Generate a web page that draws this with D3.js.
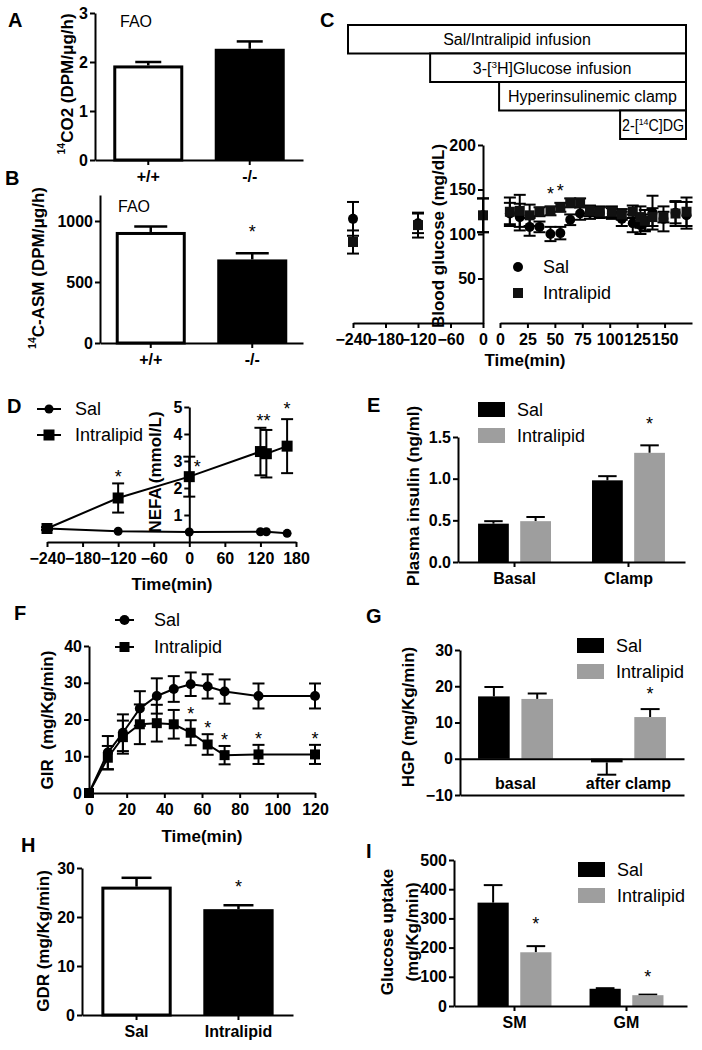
<!DOCTYPE html>
<html><head><meta charset="utf-8">
<script src="https://cdn.jsdelivr.net/npm/d3@7"></script>
<style>
body{margin:0;background:#fff;}
svg{display:block;font-family:"Liberation Sans",Arial,Helvetica,sans-serif;}
</style></head><body>
<svg id="fig" width="702" height="1050"></svg>
<script>
// ---------------- DATA ----------------
const faoGenotypes = ["+/+", "-/-"];
const co2Values = [1.93, 2.27];
const co2Errors = [0.07, 0.15];
const co2Ticks = [0, 1, 2, 3];
const asmValues = [910, 685];
const asmErrors = [45, 50];
const asmTicks = [0, 500, 1000];
const asmStars = ["", "*"];

const protocolSteps = ["Sal/Intralipid infusion", "3-[3H]Glucose infusion", "Hyperinsulinemic clamp", "2-[14C]DG"];
const protocolStart = [0, 0.243, 0.447, 0.805];

const glucPreTimes = [-240, -120, 0];
const glucPreSal = [117, 112, 121];
const glucPreSalErr = [19, 11, 19];
const glucPreIL = [91, 110, 121];
const glucPreILErr = [13, 14, 19];
const glucTimes = [9, 18, 27, 36, 46, 55, 64, 73, 82, 91, 102, 111, 121, 128, 132, 139, 149, 160, 170];
const glucSal = [123, 119, 108, 108, 100, 101, 116, 123, 124, 124, 123, 117, 112, 110, 113, 124, 117, 124, 121];
const glucSalErr = [12, 15, 10, 6, 8, 7, 6, 7, 7, 6, 6, 8, 10, 10, 9, 19, 14, 12, 15];
const glucIL = [125, 126, 121, 125, 126, 130, 135, 135, 126, 125, 125, 122, 125, 119, 115, 119, 119, 123, 125];
const glucILErr = [16, 18, 12, 5, 5, 5, 5, 5, 6, 6, 6, 6, 7, 12, 12, 10, 6, 14, 16];
const glucStarIdx = [4, 5];
const glucPreTicks = [-240, -180, -120, -60, 0];
const glucPostTicks = [0, 25, 50, 75, 100, 125, 150];
const glucYTicks = [50, 100, 150, 200];

const nefaTimes = [-240, -120, 0, 120, 130, 165];
const nefaSal = [0.5, 0.4, 0.37, 0.38, 0.38, 0.32];
const nefaIL = [0.5, 1.63, 2.42, 3.35, 3.27, 3.55];
const nefaILErr = [0.05, 0.54, 0.74, 0.88, 0.88, 1.0];
const nefaXTicks = [-240, -180, -120, -60, 0, 60, 120, 180];
const nefaYTicks = [1, 2, 3, 4, 5];

const insulinGroups = ["Basal", "Clamp"];
const insulinSal = [0.46, 0.98];
const insulinSalErr = [0.03, 0.05];
const insulinIL = [0.49, 1.31];
const insulinILErr = [0.05, 0.09];
const insulinTicks = [0, 0.5, 1.0, 1.5];

const girTimes = [0, 10, 18, 27, 36, 45, 54, 63, 72, 90, 120];
const girSal = [0, 11, 16.4, 23, 26.4, 28.3, 29.6, 29, 27.6, 26.4, 26.4];
const girSalErr = [0, 4.5, 5, 4.7, 4.8, 3.5, 3.2, 3.3, 3.3, 3.4, 3.4];
const girIL = [0, 9.6, 15.2, 18.7, 19, 18.7, 16.4, 13.2, 10.3, 10.5, 10.5];
const girILErr = [0, 3.2, 4.5, 5.4, 5, 3.9, 3.4, 2.8, 2.5, 2.6, 2.6];
const girStars = ["", "", "", "", "", "", "*", "*", "*", "*", "*"];
const girXTicks = [0, 20, 40, 60, 80, 100, 120];
const girYTicks = [0, 10, 20, 30, 40];

const hgpGroups = ["basal", "after clamp"];
const hgpSal = [17.2, -1.0];
const hgpSalErr = [2.6, 3.4];
const hgpIL = [16.5, 11.5];
const hgpILErr = [1.5, 2.2];
const hgpTicks = [-10, 0, 10, 20, 30];

const gdrGroups = ["Sal", "Intralipid"];
const gdrValues = [26.2, 21.6];
const gdrErrors = [1.8, 0.8];
const gdrTicks = [0, 10, 20, 30];

const uptakeGroups = ["SM", "GM"];
const uptakeSal = [354, 59];
const uptakeSalErr = [60, 2];
const uptakeIL = [184, 37];
const uptakeILErr = [21, 2];
const uptakeTicks = [0, 100, 200, 300, 400, 500];

// ---------------- HELPERS ----------------
const FF = '"Liberation Sans", Arial, Helvetica, sans-serif';
const GRAY = "#9e9e9e";
const svg = d3.select("#fig");

function styleAxis(g) {
  g.select(".domain").attr("stroke", "#000").attr("stroke-width", 2);
  g.selectAll(".tick line").attr("stroke", "#000").attr("stroke-width", 2);
  g.selectAll(".tick text").attr("fill", "#000").attr("font-size", 16)
    .attr("font-weight", "bold").attr("font-family", FF);
}
function yAxis(scale, x, ticks, fmt) {
  const ax = d3.axisLeft(scale).tickValues(ticks).tickSizeOuter(0).tickSizeInner(5).tickPadding(2);
  if (fmt) ax.tickFormat(fmt);
  const g = svg.append("g").attr("transform", `translate(${x},0)`).call(ax);
  styleAxis(g);
  return g;
}
function xAxis(scale, y, ticks, fmt, size) {
  const ax = d3.axisBottom(scale).tickSizeOuter(0).tickSizeInner(size === undefined ? 5 : size).tickPadding(6);
  if (ticks) ax.tickValues(ticks);
  if (fmt) ax.tickFormat(fmt);
  const g = svg.append("g").attr("transform", `translate(0,${y})`).call(ax);
  styleAxis(g);
  if (fmt && fmt(ticks ? ticks[0] : scale.domain()[0]) === "") g.selectAll(".tick text").remove();
  return g;
}
function addParts(t, parts) {
  if (typeof parts === "string") { t.text(parts); return; }
  let off = 0;
  parts.forEach(p => {
    if (typeof p === "object") {
      t.append("tspan").attr("dy", -6 - off).attr("font-size", "0.62em").text(p.s);
      off = -6;
    } else {
      const ts = t.append("tspan").text(p);
      if (off !== 0) { ts.attr("dy", -off); off = 0; }
    }
  });
}
function yTitle(x, y, parts, size) {
  const t = svg.append("text").attr("transform", `translate(${x},${y}) rotate(-90)`)
    .attr("text-anchor", "middle").attr("dominant-baseline", "central")
    .attr("font-size", size || 17).attr("font-weight", "bold").attr("font-family", FF)
    .style("white-space", "pre");
  addParts(t, parts);
}
function plainText(x, y, s, opts) {
  opts = opts || {};
  const t = svg.append("text").attr("x", x).attr("y", y)
    .attr("font-size", opts.size || 16).attr("font-family", FF)
    .attr("font-weight", opts.bold ? "bold" : "normal")
    .attr("text-anchor", opts.anchor || "start")
    .attr("dominant-baseline", opts.baseline || "auto")
    .style("white-space", "pre");
  addParts(t, s);
  return t;
}
function star(x, yCenter, s) {
  svg.append("text").attr("x", x).attr("y", yCenter + 10).attr("text-anchor", "middle")
    .attr("font-size", 18).attr("font-family", FF).text(s);
}
function errBar(x, y0, y1, cap, w) {
  svg.append("line").attr("x1", x).attr("x2", x).attr("y1", y0).attr("y2", y1)
    .attr("stroke", "#000").attr("stroke-width", w || 2);
  if (cap > 0) svg.append("line").attr("x1", x - cap / 2).attr("x2", x + cap / 2).attr("y1", y1).attr("y2", y1)
    .attr("stroke", "#000").attr("stroke-width", w || 2);
}
function marker(type, x, y, size, fill) {
  if (type === "circle") {
    svg.append("circle").attr("cx", x).attr("cy", y).attr("r", size / 2).attr("fill", fill || "#000");
  } else {
    svg.append("rect").attr("x", x - size / 2).attr("y", y - size / 2).attr("width", size).attr("height", size).attr("fill", fill || "#000");
  }
}
function simpleBars(xS, yS, cats, vals, errs, cap) {
  cats.forEach((c, i) => {
    const x = xS(c), bw = xS.bandwidth(), cx = x + bw / 2;
    errBar(cx, yS(vals[i]), yS(vals[i] + errs[i]), cap, 2.5);
    if (i === 0) {
      svg.append("rect").attr("x", x + 1.5).attr("y", yS(vals[i]) + 1.5)
        .attr("width", bw - 3).attr("height", yS(0) - yS(vals[i]) - 1.5)
        .attr("fill", "#fff").attr("stroke", "#000").attr("stroke-width", 3);
    } else {
      svg.append("rect").attr("x", x).attr("y", yS(vals[i]))
        .attr("width", bw).attr("height", yS(0) - yS(vals[i])).attr("fill", "#000");
    }
  });
}
function groupedBars(xO, yS, groups, series, starOffsets) {
  const xI = d3.scaleBand().domain(series.map(s => s.name)).range([0, xO.bandwidth()]).paddingInner(0.27).paddingOuter(0);
  groups.forEach((g, gi) => {
    series.forEach(s => {
      const v = s.values[gi], e = s.errors[gi];
      const x = xO(g) + xI(s.name), bw = xI.bandwidth(), cx = x + bw / 2;
      const sign = v < 0 ? -1 : 1;
      errBar(cx, yS(v), yS(v + sign * e), bw * 0.6, 2);
      svg.append("rect").attr("x", x).attr("y", Math.min(yS(v), yS(0)))
        .attr("width", bw).attr("height", Math.abs(yS(0) - yS(v))).attr("fill", s.color);
      if (s.stars && s.stars[gi]) star(cx, yS(v + e) - starOffsets[gi], s.stars[gi]);
    });
  });
}
function barLegend(x, y, names, colors, textSize) {
  names.forEach((n, i) => {
    svg.append("rect").attr("x", x).attr("y", y + i * 26).attr("width", 27).attr("height", 15).attr("fill", colors[i]);
    plainText(x + 39, y + i * 26 + 7.5, n, { size: textSize || 18, baseline: "central" });
  });
}

// ---------------- PANEL A ----------------
{
  const x = d3.scaleBand().domain(faoGenotypes).range([95, 303]).paddingInner(0.31).paddingOuter(0.18);
  const y = d3.scaleLinear().domain([0, 3]).range([160, 13]);
  simpleBars(x, y, faoGenotypes, co2Values, co2Errors, 26);
  yAxis(y, 95, co2Ticks, d3.format("d"));
  xAxis(x, 160);
  yTitle(67, 84, [{ s: "14" }, "CO2 (DPM/μg/h)"], 17);
  plainText(120, 27, "FAO", { size: 16 });
}
// ---------------- PANEL B ----------------
{
  const x = d3.scaleBand().domain(faoGenotypes).range([100, 303]).paddingInner(0.31).paddingOuter(0.155);
  const y = d3.scaleLinear().domain([0, 1213]).range([343, 195]);
  simpleBars(x, y, faoGenotypes, asmValues, asmErrors, 33);
  yAxis(y, 100, asmTicks, d3.format("d"));
  xAxis(x, 343);
  faoGenotypes.forEach((c, i) => { if (asmStars[i]) star(x(c) + x.bandwidth() / 2, y(asmValues[i] + asmErrors[i]) - 25, asmStars[i]); });
  yTitle(38, 268, [{ s: "14" }, "C-ASM (DPM/μg/h)"], 17);
  plainText(118, 212, "FAO", { size: 16 });
}
// ---------------- PANEL C ----------------
{
  const px = d3.scaleLinear().domain([0, 1]).range([348, 686]);
  const py = d3.scaleBand().domain(protocolSteps).range([25, 139]);
  protocolSteps.forEach((s, i) => {
    const x0 = px(protocolStart[i]), x1 = px(1);
    svg.append("rect").attr("x", x0).attr("y", py(s)).attr("width", x1 - x0).attr("height", py.bandwidth())
      .attr("fill", "#fff").attr("stroke", "#000").attr("stroke-width", 2);
    let parts;
    if (i === 1) parts = ["3-[", { s: "3" }, "H]Glucose infusion"];
    else if (i === 3) parts = ["2-[", { s: "14" }, "C]DG"];
    else parts = s;
    const t = plainText((x0 + x1) / 2 + (i === 1 ? -6 : 0), py(s) + py.bandwidth() / 2 + 6, parts, { size: 16, anchor: "middle" });
    if (i === 3) t.attr("textLength", 62).attr("lengthAdjust", "spacingAndGlyphs");
  });

  const xPre = d3.scaleLinear().domain([-240, 0]).range([353, 483]);
  const xPost = d3.scaleLinear().domain([0, 175]).range([500, 692]);
  const y = d3.scaleLinear().domain([0, 200]).range([323, 145]);
  const both = (x, v, e) => { errBar(x, y(v), y(v + e), 12, 2); errBar(x, y(v), y(v - e), 12, 2); };
  glucPreTimes.forEach((t, i) => { both(xPre(t), glucPreSal[i], glucPreSalErr[i]); both(xPre(t), glucPreIL[i], glucPreILErr[i]); });
  glucTimes.forEach((t, i) => { both(xPost(t), glucSal[i], glucSalErr[i]); both(xPost(t), glucIL[i], glucILErr[i]); });
  glucPreTimes.forEach((t, i) => marker("circle", xPre(t), y(glucPreSal[i]), 10));
  glucTimes.forEach((t, i) => marker("circle", xPost(t), y(glucSal[i]), 10));
  glucPreTimes.forEach((t, i) => marker("square", xPre(t), y(glucPreIL[i]), 10, "#111"));
  glucTimes.forEach((t, i) => marker("square", xPost(t), y(glucIL[i]), 10, "#111"));
  glucStarIdx.forEach(i => star(xPost(glucTimes[i]), y(Math.max(glucIL[i] + glucILErr[i], glucSal[i] + glucSalErr[i])) - 16, "*"));

  yAxis(y, 483, glucYTicks, d3.format("d"));
  xAxis(xPre, 323, glucPreTicks, d3.format("d"));
  xAxis(xPost, 323, glucPostTicks, d3.format("d"));
  yTitle(438, 236, "Blood glucose (mg/dL)", 17);
  plainText(525, 366, "Time(min)", { size: 17, bold: true, anchor: "middle" });
  marker("circle", 518, 267, 10);
  plainText(543, 267, "Sal", { size: 18, baseline: "central" });
  marker("square", 518, 293, 10, "#111");
  plainText(543, 293, "Intralipid", { size: 18, baseline: "central" });
}
// ---------------- PANEL D ----------------
{
  const x = d3.scaleLinear().domain([-240, 180]).range([47, 296]);
  const y = d3.scaleLinear().domain([0, 5]).range([542, 407]);
  const line = d3.line().x(d => x(d[0])).y(d => y(d[1]));
  svg.append("path").datum(nefaTimes.map((t, i) => [t, nefaSal[i]])).attr("d", line).attr("fill", "none").attr("stroke", "#000").attr("stroke-width", 2);
  svg.append("path").datum(nefaTimes.map((t, i) => [t, nefaIL[i]])).attr("d", line).attr("fill", "none").attr("stroke", "#000").attr("stroke-width", 2);
  yTitle(155, 472, "NEFA (mmol/L)", 17);
  nefaTimes.forEach((t, i) => {
    errBar(x(t), y(nefaIL[i]), y(nefaIL[i] + nefaILErr[i]), 12, 2);
    errBar(x(t), y(nefaIL[i]), y(nefaIL[i] - nefaILErr[i]), 12, 2);
  });
  nefaTimes.forEach((t, i) => marker("circle", x(t), y(nefaSal[i]), 9));
  nefaTimes.forEach((t, i) => marker("square", x(t), y(nefaIL[i]), 11));
  yAxis(y, x(0), nefaYTicks, d3.format("d"));
  xAxis(x, 542, nefaXTicks, d3.format("d"));
  plainText(172, 590, "Time(min)", { size: 17, bold: true, anchor: "middle" });
  star(x(nefaTimes[1]), y(nefaIL[1] + nefaILErr[1]) - 10, "*");
  star(x(nefaTimes[2]) + 8, y(nefaIL[2]) - 14, "*");
  star(x((nefaTimes[3] + nefaTimes[4]) / 2), y(Math.max(nefaIL[3] + nefaILErr[3], nefaIL[4] + nefaILErr[4])) - 11, "**");
  star(x(nefaTimes[5]), y(nefaIL[5] + nefaILErr[5]) - 14, "*");
  [["circle", "Sal", 409, 9], ["square", "Intralipid", 435, 11]].forEach(([m, n, yy, sz]) => {
    svg.append("line").attr("x1", 37).attr("x2", 61).attr("y1", yy).attr("y2", yy).attr("stroke", "#000").attr("stroke-width", 2);
    marker(m, 49, yy, sz);
    plainText(75, yy, n, { size: 18, baseline: "central" });
  });
}
// ---------------- PANEL E ----------------
{
  const x = d3.scaleBand().domain(insulinGroups).range([458, 685]).paddingInner(0.36).paddingOuter(0.176);
  const y = d3.scaleLinear().domain([0, 1.5]).range([562, 437]);
  groupedBars(x, y, insulinGroups, [
    { name: "Sal", values: insulinSal, errors: insulinSalErr, color: "#000" },
    { name: "Intralipid", values: insulinIL, errors: insulinILErr, color: GRAY, stars: ["", "*"] }
  ], [25, 25]);
  yAxis(y, 458, insulinTicks, d3.format(".1f"));
  xAxis(x, 562);
  yTitle(413, 496, "Plasma insulin (ng/ml)", 17);
  barLegend(478, 402, ["Sal", "Intralipid"], ["#000", GRAY]);
}
// ---------------- PANEL F ----------------
{
  const x = d3.scaleLinear().domain([0, 120]).range([89, 315]);
  const y = d3.scaleLinear().domain([0, 40]).range([793, 646]);
  const line = d3.line().x(d => x(d[0])).y(d => y(d[1]));
  svg.append("path").datum(girTimes.map((t, i) => [t, girSal[i]])).attr("d", line).attr("fill", "none").attr("stroke", "#000").attr("stroke-width", 2);
  svg.append("path").datum(girTimes.map((t, i) => [t, girIL[i]])).attr("d", line).attr("fill", "none").attr("stroke", "#000").attr("stroke-width", 2);
  girTimes.forEach((t, i) => {
    if (girSalErr[i] > 0) { errBar(x(t), y(girSal[i]), y(girSal[i] + girSalErr[i]), 12, 2); errBar(x(t), y(girSal[i]), y(girSal[i] - girSalErr[i]), 12, 2); }
    if (girILErr[i] > 0) { errBar(x(t), y(girIL[i]), y(girIL[i] + girILErr[i]), 12, 2); errBar(x(t), y(girIL[i]), y(girIL[i] - girILErr[i]), 12, 2); }
  });
  girTimes.forEach((t, i) => marker("circle", x(t), y(girSal[i]), 10));
  girTimes.forEach((t, i) => marker("square", x(t), y(girIL[i]), 10));
  girTimes.forEach((t, i) => { if (girStars[i]) star(x(t), y(girIL[i] + girILErr[i]) - 10, girStars[i]); });
  yAxis(y, 89, girYTicks, d3.format("d"));
  xAxis(x, 793, girXTicks, d3.format("d"));
  yTitle(47, 720, "GIR  (mg/Kg/min)", 17);
  plainText(202, 842, "Time(min)", { size: 17, bold: true, anchor: "middle" });
  [["circle", "Sal", 620, 10], ["square", "Intralipid", 647, 10]].forEach(([m, n, yy, sz]) => {
    svg.append("line").attr("x1", 115).attr("x2", 134).attr("y1", yy).attr("y2", yy).attr("stroke", "#000").attr("stroke-width", 2);
    marker(m, 124.5, yy, sz);
    plainText(154, yy, n, { size: 18, baseline: "central" });
  });
}
// ---------------- PANEL G ----------------
{
  const x = d3.scaleBand().domain(hgpGroups).range([460, 684]).paddingInner(0.336).paddingOuter(0.16);
  const y = d3.scaleLinear().domain([-10, 30]).range([795, 650]);
  groupedBars(x, y, hgpGroups, [
    { name: "Sal", values: hgpSal, errors: hgpSalErr, color: "#000" },
    { name: "Intralipid", values: hgpIL, errors: hgpILErr, color: GRAY, stars: ["", "*"] }
  ], [19, 19]);
  yAxis(y, 460, hgpTicks, d3.format("d"));
  xAxis(x, y(0), null, () => "", 0);
  xAxis(x, y(-10), null, () => "", 0);
  hgpGroups.forEach(g => plainText(x(g) + x.bandwidth() / 2, y(-10) - 6, g, { size: 16, bold: true, anchor: "middle" }));
  yTitle(408, 717, "HGP (mg/Kg/min)", 17);
  barLegend(577, 638, ["Sal", "Intralipid"], ["#000", GRAY]);
}
// ---------------- PANEL H ----------------
{
  const x = d3.scaleBand().domain(gdrGroups).range([82, 293]).paddingInner(0.31).paddingOuter(0.19);
  const y = d3.scaleLinear().domain([0, 30]).range([1015, 868]);
  simpleBars(x, y, gdrGroups, gdrValues, gdrErrors, 30);
  yAxis(y, 82, gdrTicks, d3.format("d"));
  xAxis(x, 1015);
  star(x(gdrGroups[1]) + x.bandwidth() / 2, y(gdrValues[1] + gdrErrors[1]) - 22, "*");
  yTitle(43, 941, "GDR (mg/Kg/min)", 17);
}
// ---------------- PANEL I ----------------
{
  const x = d3.scaleBand().domain(uptakeGroups).range([454, 687]).paddingInner(0.34).paddingOuter(0.21);
  const y = d3.scaleLinear().domain([0, 500]).range([1006, 860]);
  groupedBars(x, y, uptakeGroups, [
    { name: "Sal", values: uptakeSal, errors: uptakeSalErr, color: "#000" },
    { name: "Intralipid", values: uptakeIL, errors: uptakeILErr, color: GRAY, stars: ["*", "*"] }
  ], [26, 22]);
  yAxis(y, 454, uptakeTicks, d3.format("d"));
  xAxis(x, 1006);
  yTitle(387, 932, "Glucose uptake", 17);
  yTitle(412, 932, "(mg/Kg/min)", 17);
  barLegend(578, 862, ["Sal", "Intralipid"], ["#000", GRAY]);
}
// ---------------- PANEL LETTERS ----------------
[["A", 8, 27], ["B", 5, 185], ["C", 320, 27], ["D", 7, 413], ["E", 367, 412],
 ["F", 14, 620], ["G", 366, 623], ["H", 21, 852], ["I", 366, 858]].forEach(([l, x, y]) =>
  plainText(x, y, l, { size: 20, bold: true }));
</script>
</body></html>
